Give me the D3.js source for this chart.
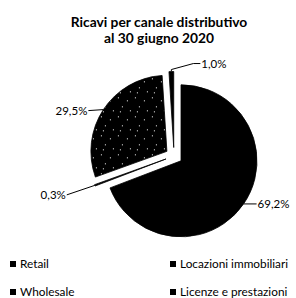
<!DOCTYPE html>
<html><head><meta charset="utf-8">
<script src="https://cdn.jsdelivr.net/npm/d3@7"></script>
<style>html,body{margin:0;padding:0;background:#fff;}svg{display:block;}</style>
</head><body>
<script>
const titleLines = ["Ricavi per canale distributivo", "al 30 giugno 2020"];
const categories = ["Retail", "Locazioni immobiliari", "Wholesale", "Licenze e prestazioni"];
const values = [69.2, 0.3, 29.5, 1.0];
const valueLabels = ["69,2%", "0,3%", "29,5%", "1,0%"];
const legendOrder = ["Retail", "Locazioni immobiliari", "Wholesale", "Licenze e prestazioni"];

const W = 296, H = 298;
const cx = 174, cy = 156, R = 76, explode = 8.5;
const font = "Lato, 'Liberation Sans', sans-serif";

const svg = d3.select("body").append("svg").attr("width", W).attr("height", H);
const defs = svg.append("defs");
const pat = defs.append("pattern").attr("id", "speck").attr("patternUnits", "userSpaceOnUse")
  .attr("width", 17).attr("height", 19);
pat.append("rect").attr("width", 17).attr("height", 19).attr("fill", "#000");
[[2,3],[11,6],[6,12],[14,16],[4,17]].forEach(([x,y]) =>
  pat.append("rect").attr("x", x).attr("y", y).attr("width", 1).attr("height", 1).attr("fill", "#fff"));

const fills = {"Retail": "#000", "Locazioni immobiliari": "#000", "Wholesale": "url(#speck)", "Licenze e prestazioni": "#000"};

// title
svg.append("g").selectAll("text").data(titleLines).join("text")
  .attr("x", 159).attr("y", (d, i) => 27 + i * 16)
  .attr("text-anchor", "middle").attr("font-family", font).attr("font-weight", "bold")
  .attr("font-size", 13.8).attr("fill", "#000").text(d => d);

const pie = d3.pie().sort(null).value(d => d.v).startAngle(0).endAngle(2 * Math.PI);
const arcs = pie(categories.map((c, i) => ({c, v: values[i], lab: valueLabels[i]})));
const arc = d3.arc().innerRadius(0).outerRadius(R);

const g = svg.append("g").attr("transform", `translate(${cx},${cy})`);
const off = a => { const m = (a.startAngle + a.endAngle) / 2; return [Math.sin(m) * explode, -Math.cos(m) * explode]; };

g.selectAll("path").data(arcs).join("path")
  .attr("transform", d => `translate(${off(d)})`)
  .attr("d", arc)
  .attr("fill", d => fills[d.data.c])
  .attr("stroke", "#000").attr("stroke-width", 0.8);

// leader lines & labels (layout: elbow offsets relative to slice outer point)
const layout = {
  "Retail":               {pts: [[13, 0]], anchor: "start", tdx: 1},
  "Locazioni immobiliari":{pts: [[-28, 9.5]], anchor: "end", tdx: -1},
  "Wholesale":            {pts: [[-15, 1]], anchor: "end", tdx: -1},
  "Licenze e prestazioni":{pts: [[0, -2], [22, -8], [29, -8]], anchor: "start", tdx: 1}
};
arcs.forEach(d => {
  const m = (d.startAngle + d.endAngle) / 2;
  const p0 = [Math.sin(m) * (R + explode), -Math.cos(m) * (R + explode)];
  const L = layout[d.data.c];
  const pts = [p0].concat(L.pts.map(q => [p0[0] + q[0], p0[1] + q[1]]));
  g.append("path").attr("d", d3.line()(pts)).attr("fill", "none").attr("stroke", "#000").attr("stroke-width", 1);
  const last = pts[pts.length - 1];
  g.append("text").attr("x", last[0] + L.tdx).attr("y", last[1] + 4)
    .attr("text-anchor", L.anchor).attr("font-family", font).attr("font-size", 11.5)
    .attr("fill", "#000").text(d.data.lab);
});

// legend (2 columns, row-first)
const leg = svg.append("g");
const colX = [10, 170], rowY = [265, 293];
legendOrder.forEach((c, i) => {
  const x = colX[i % 2], y = rowY[Math.floor(i / 2)];
  leg.append("rect").attr("x", x).attr("y", y - 4).attr("width", 6).attr("height", 6).attr("fill", "#000");
  leg.append("text").attr("x", x + 10).attr("y", y + 3).attr("font-family", font)
    .attr("font-size", 11.8).attr("fill", "#000").text(c);
});
</script>
</body></html>
